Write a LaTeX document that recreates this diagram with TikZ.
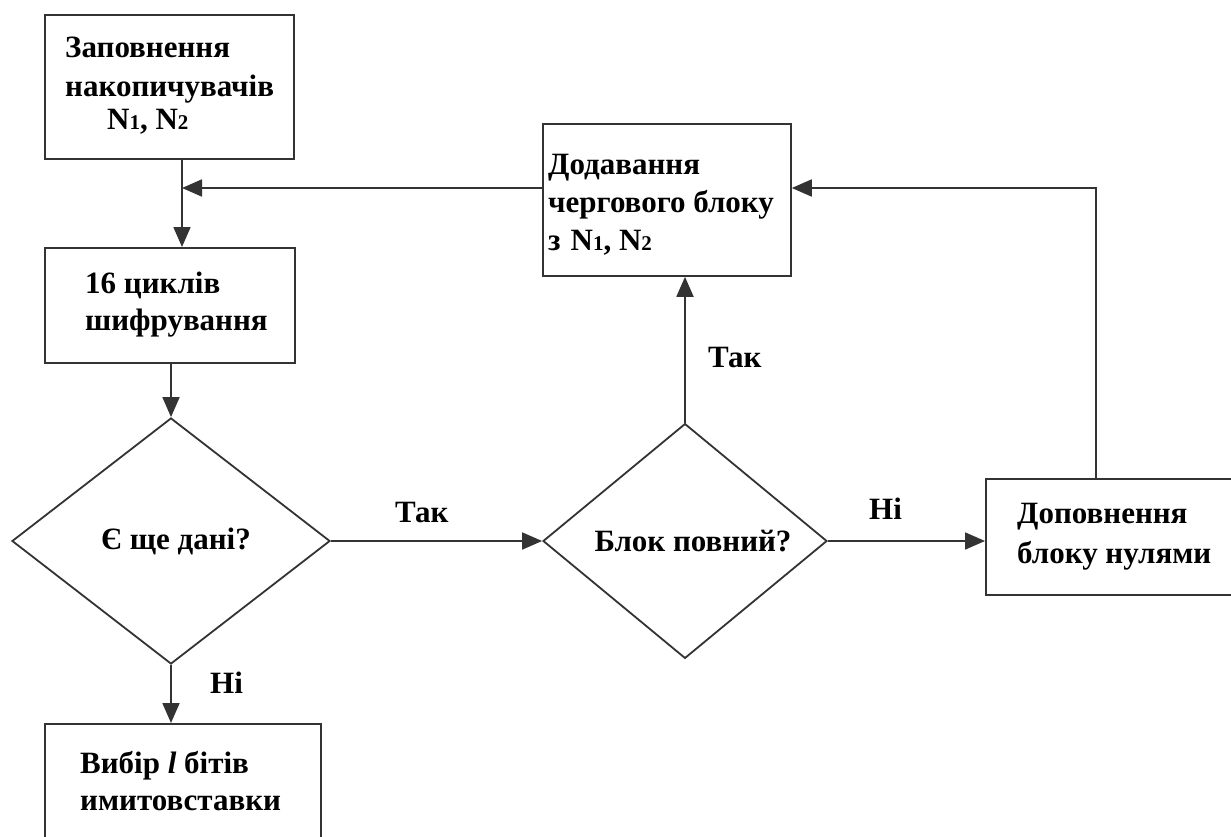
\documentclass[tikz,border=0pt]{standalone}
\usepackage{fontspec}
\setmainfont{Liberation Serif}
\usetikzlibrary{shapes.geometric,arrows.meta}
\newcommand\nsub[1]{{\fontsize{21}{21}\selectfont #1}}
\begin{document}
\begin{tikzpicture}[x=1pt,y=-1pt,
  line/.style={draw=black!80,line width=1.8pt},
  arr/.style={line,-{Triangle[length=20pt,width=17pt]}},
  box/.style={line,rectangle,inner sep=0pt,anchor=north west,fill=white},
  dia/.style={line,diamond,inner sep=0pt,fill=white,font=\fontsize{31}{37}\bfseries\selectfont},
  txt/.style={anchor=base west,inner sep=0pt,font=\fontsize{31}{37}\bfseries\selectfont},
  lbl/.style={anchor=base west,inner sep=0pt,font=\fontsize{31}{37}\bfseries\selectfont}]
\useasboundingbox (0,0) rectangle (1231,837);
\clip (0,0) rectangle (1231,837);
\fill[white] (0,0) rectangle (1231,837);

% blocks
\node[box,minimum width=249,minimum height=144] (b1) at (44,14) {};
\node[box,minimum width=250,minimum height=115] (b2) at (44,247) {};
\node[box,minimum width=248,minimum height=152] (b3) at (542,123) {};
\node[box,minimum width=270,minimum height=116] (b4) at (985,478) {};
\node[box,minimum width=276,minimum height=150] (b5) at (44,723) {};

% decisions
\node[dia,minimum width=318,minimum height=246] (d1) at (171,541) {\hspace*{10pt}Є ще дані?};
\node[dia,minimum width=284,minimum height=231] (d2) at (685,541) {\hspace*{16pt}Блок повний?};

% block texts
\node[txt] (t1a) at (65,58) {Заповнення};
\node[txt] (t1b) at (65,97) {накопичувачів};
\node[txt] (t1c) at (107,130) {N\nsub{1}, N\nsub{2}};
\node[txt] (t2a) at (85,293) {16 циклів};
\node[txt] (t2b) at (85,330) {шифрування};
\node[txt] (t3a) at (548,175) {Додавання};
\node[txt] (t3b) at (548,212) {чергового блоку};
\node[txt] (t3c) at (548,250) {з\hspace{10pt}N\nsub{1}, N\nsub{2}};
\node[txt] (t4a) at (1017,523) {Доповнення};
\node[txt] (t4b) at (1017,563) {блоку нулями};
\node[txt] (t5a) at (80,773) {Вибір \textit{l} бітів};
\node[txt] (t5b) at (80,810) {имитовставки};

% branch labels
\node[lbl] (l1) at (395,522) {Так};
\node[lbl] (l2) at (708,367) {Так};
\node[lbl] (l3) at (869,519) {Ні};
\node[lbl] (l4) at (210,693) {Ні};

% junctions of the feedback loop
\coordinate (fb) at (182,188);
\coordinate (cr) at (1096,188);

% connectors
\draw[arr] (b1.south -| fb) -- (b2.north -| fb);
\draw[arr] (b2.south -| d1) -- (d1.north);
\draw[arr] (d1.south) -- (b5.north -| d1);
\draw[arr] (d1.east) -- (d2.west);
\draw[arr] (d2.north) -- (d2.north |- b3.south);
\draw[arr] (d2.east) -- (d2.east -| b4.west);
\draw[arr] (b4.north -| cr) -- (cr) -- (b3.east |- cr);
\draw[arr] (b3.west |- fb) -- (fb);
\end{tikzpicture}
\end{document}
